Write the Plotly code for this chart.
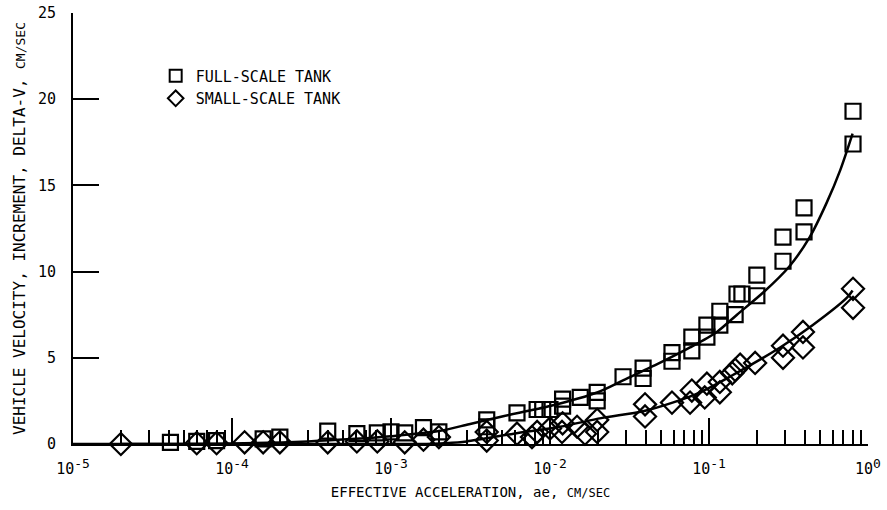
import plotly.graph_objects as go

# Full-scale tank measurements: effective acceleration (cm/sec) and delta-V (cm/sec)
full_accel = [4.1e-5, 6.0e-5, 8.0e-5, 1.57e-4, 2.0e-4, 4.0e-4, 6.1e-4, 8.2e-4, 1.0e-3,
              1.22e-3, 1.6e-3, 2.0e-3, 4.0e-3, 4.0e-3, 6.2e-3, 8.3e-3, 9.0e-3, 1.0e-2,
              1.2e-2, 1.2e-2, 1.55e-2, 1.98e-2, 1.98e-2, 2.88e-2, 3.85e-2, 3.85e-2,
              5.85e-2, 5.85e-2, 7.8e-2, 7.8e-2, 9.7e-2, 9.7e-2, 0.117, 0.117, 0.146,
              0.150, 0.161, 0.200, 0.200, 0.292, 0.292, 0.396, 0.396, 0.805, 0.805]
full_dv = [0.1, 0.15, 0.2, 0.3, 0.4, 0.75, 0.6, 0.65, 0.7,
           0.65, 0.95, 0.7, 1.4, 1.0, 1.8, 2.0, 2.0, 2.0,
           2.6, 2.2, 2.7, 3.0, 2.5, 3.9, 4.4, 3.8,
           5.3, 4.8, 6.2, 5.4, 6.9, 6.2, 7.7, 6.9, 7.5,
           8.7, 8.7, 9.8, 8.6, 12.0, 10.6, 13.7, 12.3, 19.3, 17.4]

# Small-scale tank measurements
small_accel = [2.0e-5, 6.0e-5, 8.0e-5, 1.2e-4, 1.57e-4, 2.0e-4, 4.0e-4, 6.1e-4, 8.2e-4,
               1.22e-3, 1.6e-3, 2.0e-3, 4.0e-3, 4.0e-3, 6.2e-3, 7.7e-3, 8.3e-3, 1.0e-2,
               1.19e-2, 1.2e-2, 1.48e-2, 1.66e-2, 1.98e-2, 1.98e-2, 3.96e-2, 3.96e-2,
               5.85e-2, 7.6e-2, 7.8e-2, 9.4e-2, 9.7e-2, 0.117, 0.117, 0.140, 0.146,
               0.157, 0.195, 0.292, 0.292, 0.390, 0.390, 0.805, 0.805]
small_dv = [0.0, 0.05, 0.05, 0.1, 0.1, 0.1, 0.1, 0.15, 0.15,
            0.1, 0.25, 0.4, 0.7, 0.2, 0.6, 0.4, 0.7, 0.9,
            0.7, 1.2, 1.0, 0.6, 1.4, 0.7, 2.3, 1.6,
            2.4, 2.4, 3.1, 2.7, 3.5, 3.6, 3.0, 4.1, 4.3,
            4.6, 4.7, 5.7, 5.0, 6.5, 5.6, 9.0, 7.9]

# Faired curves through each data set
full_curve_x = [2.0e-5, 1.0e-4, 3.0e-4, 6.0e-4, 1.0e-3, 2.0e-3, 3.1e-3, 5.0e-3, 1.0e-2,
                2.0e-2, 2.9e-2, 4.9e-2, 7.6e-2, 0.112, 0.15, 0.22, 0.32, 0.43, 0.55,
                0.67, 0.8]
full_curve_y = [0.0, 0.03, 0.15, 0.3, 0.45, 0.75, 1.15, 1.6, 2.2,
                3.0, 3.7, 4.7, 5.6, 6.5, 7.5, 8.8, 10.3, 12.0, 14.0,
                15.9, 18.0]
small_curve_x = [1.0e-5, 1.5e-3, 2.2e-3, 3.0e-3, 5.9e-3, 1.16e-2, 2.1e-2, 3.85e-2,
                 5.9e-2, 8.8e-2, 0.135, 0.28, 0.45, 0.74, 0.8]
small_curve_y = [0.0, 0.0, 0.05, 0.15, 0.6, 1.0, 1.5, 1.9,
                 2.4, 3.0, 3.9, 5.6, 6.9, 8.5, 8.9]

# Axis ticks (powers of ten with raised exponents)
x_tick_vals = [1e-5, 1e-4, 1e-3, 1e-2, 1e-1, 1e0]
x_tick_exps = ["-5", "-4", "-3", "-2", "-1", "0"]
x_tick_text = ["10<span style='font-size:13px;baseline-shift:45%%'>%s</span>" % e
               for e in x_tick_exps]
y_tick_vals = [0, 5, 10, 15, 20, 25]

legend_names = ["FULL-SCALE TANK", "SMALL-SCALE TANK"]

FONT = "DejaVu Sans Mono"

fig = go.Figure()

fig.add_trace(go.Scatter(x=full_curve_x, y=full_curve_y, mode="lines",
                         line=dict(color="black", width=2.5, shape="spline", smoothing=0.8),
                         showlegend=False, hoverinfo="skip"))
fig.add_trace(go.Scatter(x=small_curve_x, y=small_curve_y, mode="lines",
                         line=dict(color="black", width=2.5, shape="spline", smoothing=0.8),
                         showlegend=False, hoverinfo="skip"))

fig.add_trace(go.Scatter(x=full_accel, y=full_dv, mode="markers", name=legend_names[0],
                         cliponaxis=False,
                         marker=dict(symbol="square-open", size=15, color="black",
                                     line=dict(width=2.2, color="black"))))
fig.add_trace(go.Scatter(x=small_accel, y=small_dv, mode="markers", name=legend_names[1],
                         cliponaxis=False,
                         marker=dict(symbol="diamond-open", size=17, color="black",
                                     line=dict(width=2.2, color="black"))))

fig.update_layout(
    width=887, height=510,
    margin=dict(l=73, r=19, t=13, b=66, autoexpand=False),
    paper_bgcolor="white", plot_bgcolor="white",
    font=dict(family=FONT, color="black", size=14),
    legend=dict(x=0.104, y=0.892, xanchor="left", yanchor="top",
                bgcolor="rgba(0,0,0,0)", font=dict(size=15, family=FONT),
                itemsizing="constant", tracegroupgap=0),
    xaxis=dict(
        type="log", range=[-5, 0], automargin=False,
        tickmode="array", tickvals=x_tick_vals, ticktext=x_tick_text,
        showgrid=False, zeroline=False,
        showline=True, linecolor="black", linewidth=2,
        ticks="inside", ticklen=26, tickwidth=2, tickcolor="black",
        ticklabelstandoff=10,
        tickfont=dict(size=15, family=FONT),
        minor=dict(ticks="inside", ticklen=14, tickwidth=2, tickcolor="black",
                   dtick="D1", showgrid=False),
        title=dict(text="EFFECTIVE ACCELERATION, ae, <span style='font-size:12px'>CM/SEC</span>",
                   font=dict(size=14, family=FONT), standoff=10),
    ),
    yaxis=dict(
        range=[0, 25], tickmode="array", tickvals=y_tick_vals, automargin=False,
        showgrid=False, zeroline=False,
        showline=True, linecolor="black", linewidth=2,
        ticks="inside", ticklen=26, tickwidth=2, tickcolor="black",
        ticklabelstandoff=12,
        tickfont=dict(size=15, family=FONT),
        title=dict(text="VEHICLE VELOCITY, INCREMENT, DELTA-V, <span style='font-size:13px'>CM/SEC</span>",
                   font=dict(size=16, family=FONT), standoff=8),
    ),
)

fig.write_html("out.html")
